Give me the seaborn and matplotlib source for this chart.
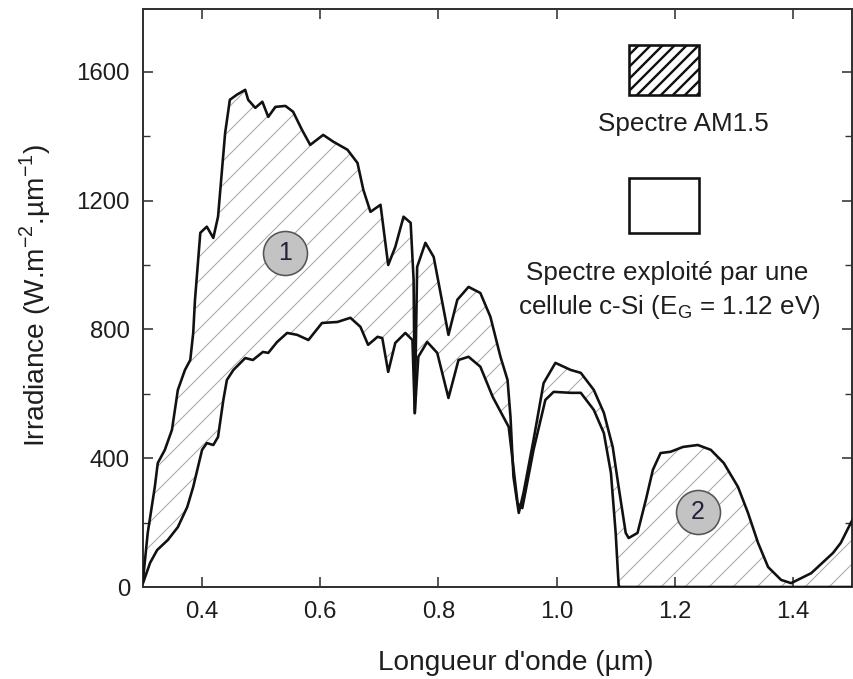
import numpy as np
import pandas as pd
import matplotlib
matplotlib.use("Agg")
import matplotlib.pyplot as plt
import seaborn as sns
from matplotlib.patches import Rectangle
from matplotlib.ticker import MultipleLocator, FixedLocator

# ---- Data ----
wl_am15 = [0.300, 0.308, 0.320, 0.325, 0.337, 0.349, 0.359, 0.371, 0.380, 0.385, 0.388,
           0.397, 0.408, 0.419, 0.427, 0.439, 0.447, 0.459, 0.473, 0.478, 0.490, 0.502,
           0.512, 0.524, 0.541, 0.554, 0.569, 0.583, 0.605, 0.622, 0.646, 0.663, 0.673,
           0.685, 0.702, 0.715, 0.727, 0.741, 0.753, 0.758, 0.760, 0.764, 0.778, 0.792,
           0.808, 0.817, 0.832, 0.851, 0.871, 0.888, 0.905, 0.917, 0.922, 0.927, 0.936,
           0.944, 0.961, 0.978, 0.998, 1.024, 1.041, 1.063, 1.080, 1.095, 1.105, 1.117,
           1.122, 1.137, 1.151, 1.163, 1.176, 1.193, 1.214, 1.239, 1.261, 1.283, 1.307,
           1.324, 1.341, 1.358, 1.380, 1.397, 1.431, 1.468, 1.481, 1.498, 1.510]
irr_am15 = [22, 168, 311, 385, 426, 488, 612, 674, 705, 789, 892,
            1100, 1119, 1084, 1150, 1410, 1513, 1529, 1544, 1513, 1488, 1507,
            1460, 1491, 1494, 1476, 1420, 1373, 1404, 1383, 1358, 1317, 1233,
            1165, 1187, 1000, 1056, 1150, 1131, 954, 540, 994, 1069, 1025,
            870, 783, 892, 932, 913, 839, 715, 643, 528, 342, 230,
            292, 457, 633, 696, 674, 665, 612, 541, 435, 311, 168,
            152, 168, 270, 364, 416, 420, 435, 441, 426, 385, 311,
            230, 137, 62, 22, 12, 43, 106, 137, 199, 240]

wl_csi = [0.300, 0.312, 0.324, 0.342, 0.359, 0.375, 0.385, 0.400, 0.408, 0.419, 0.427,
          0.436, 0.442, 0.453, 0.473, 0.486, 0.503, 0.512, 0.527, 0.544, 0.561, 0.580,
          0.603, 0.629, 0.651, 0.668, 0.681, 0.697, 0.705, 0.715, 0.727, 0.744, 0.756,
          0.760, 0.766, 0.781, 0.798, 0.817, 0.834, 0.851, 0.871, 0.892, 0.910, 0.919,
          0.934, 0.942, 0.961, 0.981, 0.995, 1.024, 1.041, 1.063, 1.080, 1.092, 1.100,
          1.105, 1.107, 1.510]
irr_csi = [12, 75, 115, 146, 186, 249, 311, 426, 447, 441, 466,
           581, 643, 674, 711, 705, 730, 727, 761, 789, 783, 767,
           820, 823, 836, 808, 752, 777, 773, 668, 758, 789, 767,
           540, 715, 761, 727, 587, 705, 715, 684, 590, 528, 497,
           260, 245, 426, 581, 606, 603, 603, 550, 478, 354, 168,
           6, 0, 0]

x_ticks = [0.4, 0.6, 0.8, 1.0, 1.2, 1.4]
x_ticklabels = ["0.4", "0.6", "0.8", "1.0", "1.2", "1.4"]
y_ticks = [0, 400, 800, 1200, 1600]
y_ticklabels = ["0", "400", "800", "1200", "1600"]

am15 = pd.DataFrame({"wl": wl_am15, "irr": irr_am15})
csi = pd.DataFrame({"wl": wl_csi, "irr": irr_csi})

# ---- Style ----
sns.set_theme(style="ticks")
plt.rcParams["font.family"] = ["Liberation Sans", "DejaVu Sans"]
plt.rcParams["mathtext.fontset"] = "custom"
plt.rcParams["mathtext.rm"] = "Liberation Sans"
plt.rcParams["hatch.linewidth"] = 1.0
TXT = "#1e1e1e"

DPI = 72
fig = plt.figure(figsize=(853 / DPI, 679 / DPI), dpi=DPI)
fig.patch.set_facecolor("white")
ax = fig.add_axes([143 / 853, 1 - 587 / 679, 709 / 853, 578 / 679])
ax.set_facecolor("white")

# hatched area between the two spectra
poly_x = list(am15["wl"]) + list(csi["wl"][::-1])
poly_y = list(am15["irr"]) + list(csi["irr"][::-1])
ax.fill(poly_x, poly_y, facecolor="none", edgecolor="#a4a4a4", hatch="/",
        linewidth=0, zorder=1)

sns.lineplot(data=am15, x="wl", y="irr", ax=ax, color="#111111", linewidth=2.6,
             estimator=None, sort=False, zorder=3, solid_joinstyle="round")
sns.lineplot(data=csi, x="wl", y="irr", ax=ax, color="#111111", linewidth=2.6,
             estimator=None, sort=False, zorder=3, solid_joinstyle="round")

ax.set_xlim(0.3, 1.5)
ax.set_ylim(0, 1795)

# axes styling
for s in ax.spines.values():
    s.set_visible(True)
    s.set_linewidth(2.0)
    s.set_color("#333333")
ax.xaxis.set_major_locator(FixedLocator(x_ticks))
ax.set_xticklabels(x_ticklabels)
ax.yaxis.set_major_locator(FixedLocator(y_ticks))
ax.set_yticklabels(y_ticklabels)
ax.yaxis.set_minor_locator(MultipleLocator(200))
ax.tick_params(which="major", direction="in", top=True, right=True, length=10,
               width=1.6, color="#333333", labelsize=24, labelcolor=TXT, pad=13)
ax.tick_params(axis="x", which="major", pad=14)
ax.tick_params(axis="y", which="minor", direction="in", left=True, right=True,
               length=7, width=1.4, color="#333333")

ax.set_xlabel("Longueur d'onde (µm)", fontsize=28, color=TXT)
ax.xaxis.set_label_coords((516 - 143) / 709, (587 - 663) / 578)
ax.xaxis.label.set_va("center")
ax.set_ylabel(r"Irradiance (W.m$^{\mathregular{-2}}$.µm$^{\mathregular{-1}}$)",
              fontsize=28, color=TXT)
ax.yaxis.set_label_coords((35 - 143) / 709, (587 - 296) / 578)
ax.yaxis.label.set_va("center")

# circled region labels
ax.scatter([0.541, 1.239], [1038, 233], s=44 ** 2, c="#c3c3c3",
           edgecolors="#555555", linewidths=1.6, zorder=5)
ax.text(0.541, 1038, "1", fontsize=25, color="#22223a", ha="center", va="center", zorder=6)
ax.text(1.239, 233, "2", fontsize=25, color="#22223a", ha="center", va="center", zorder=6)

# legend-like boxes
with plt.rc_context({"hatch.linewidth": 2.4}):
    r1 = Rectangle((1.122, 1529), 0.119, 155, facecolor="white", edgecolor="#111111",
                   hatch="//", linewidth=2.6, zorder=4)
if hasattr(r1, "set_hatch_linewidth"):
    r1.set_hatch_linewidth(2.4)
ax.add_patch(r1)
r2 = Rectangle((1.122, 1100), 0.119, 171, facecolor="white", edgecolor="#111111",
               linewidth=2.6, zorder=4)
ax.add_patch(r2)

ax.text(1.215, (587 - 131) * 3.107, "Spectre AM1.5", fontsize=26, color=TXT,
        ha="center", va="baseline")
ax.text(1.188, (587 - 280) * 3.107, "Spectre exploité par une", fontsize=26, color=TXT,
        ha="center", va="baseline")
ax.text(1.191, (587 - 314) * 3.107, r"cellule c-Si (E$_{\mathregular{G}}$ = 1.12 eV)",
        fontsize=26, color=TXT, ha="center", va="baseline")

fig.savefig("out.png", dpi=DPI, facecolor="white")
